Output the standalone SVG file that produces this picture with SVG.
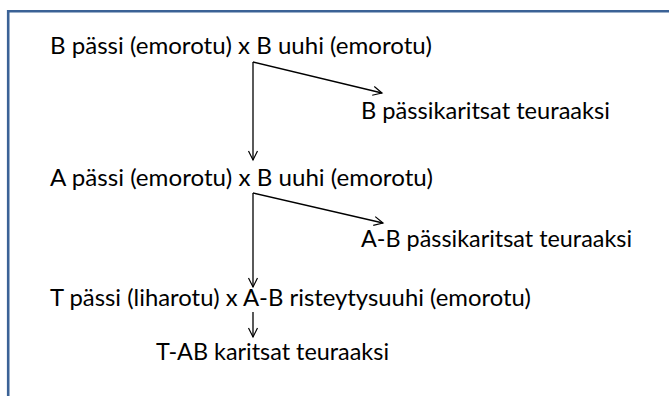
<svg xmlns="http://www.w3.org/2000/svg" width="669" height="396" viewBox="0 0 669 396">
<defs>
<marker id="ah" markerWidth="12" markerHeight="12" refX="10" refY="6" orient="auto" markerUnits="userSpaceOnUse">
<path d="M1,1.5 L10,6 L1,10.5" fill="none" stroke="#000" stroke-width="1.2"/>
</marker>
<style>
text{font-family:Lato,"Open Sans","Liberation Sans",sans-serif;font-size:24px;fill:#000}
.c{fill:none;stroke:#000;stroke-width:1.3}
</style>
</defs>
<rect x="0" y="0" width="669" height="396" fill="#fff"/>
<path d="M8.2,396 V11.3 H669" fill="none" stroke="#3b6296" stroke-width="2.6"/>
<g id="n1"><text x="50" y="54" textLength="382" lengthAdjust="spacingAndGlyphs">B pässi (emorotu) x B uuhi (emorotu)</text></g>
<g id="n2"><text x="361" y="119" textLength="249" lengthAdjust="spacingAndGlyphs">B pässikaritsat teuraaksi</text></g>
<g id="n3"><text x="50" y="186" textLength="383" lengthAdjust="spacingAndGlyphs">A pässi (emorotu) x B uuhi (emorotu)</text></g>
<g id="n4"><text x="361" y="247" textLength="271" lengthAdjust="spacingAndGlyphs">A-B pässikaritsat teuraaksi</text></g>
<g id="n5"><text x="50" y="306" textLength="481" lengthAdjust="spacingAndGlyphs">T pässi (liharotu) x A-B risteytysuuhi (emorotu)</text></g>
<g id="n6"><text x="156" y="360" textLength="233" lengthAdjust="spacingAndGlyphs">T-AB karitsat teuraaksi</text></g>
<g id="connectors">
<path class="c" d="M253,62 V160" marker-end="url(#ah)"/>
<path class="c" d="M253,62 L382,93" marker-end="url(#ah)"/>
<path class="c" d="M253,193 V287" marker-end="url(#ah)"/>
<path class="c" d="M253,193 L383,223" marker-end="url(#ah)"/>
<path class="c" d="M253,312 V337" marker-end="url(#ah)"/>
</g>
</svg>
